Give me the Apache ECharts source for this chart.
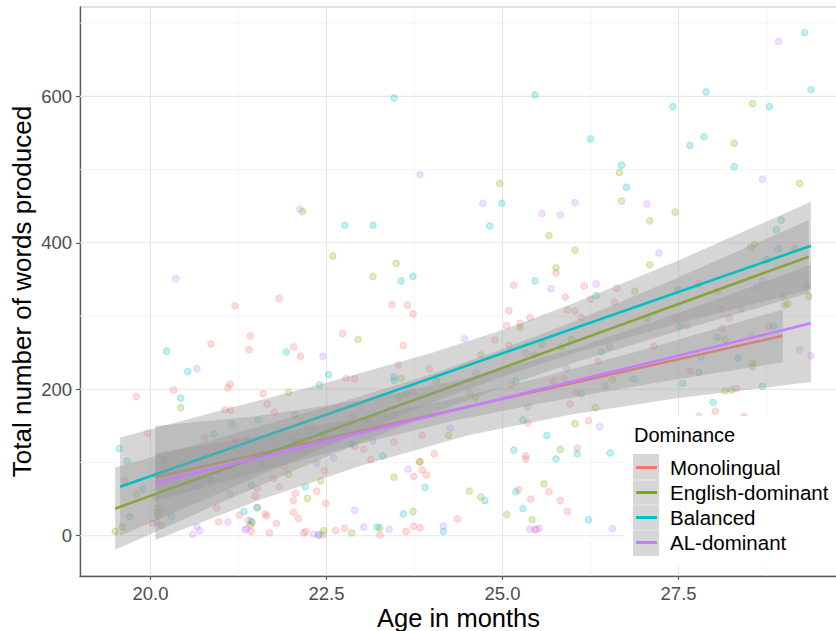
<!DOCTYPE html>
<html><head><meta charset="utf-8">
<script src="https://cdn.jsdelivr.net/npm/echarts@6/dist/echarts.min.js"></script>
<style>html,body{margin:0;padding:0;background:#fff}#c{width:836px;height:631px}</style>
</head><body><div id="c"></div>
<script>
// ---------- data ----------
const groups = ['Monolingual', 'English-dominant', 'Balanced', 'AL-dominant'];
const colors = ['#F8766D', '#7CAE00', '#00BFC4', '#C77CFF'];
const xTicks = [20, 22.5, 25, 27.5];
const xMinor = [21.25, 23.75, 26.25, 28.75];
const yTicks = [0, 200, 400, 600];
const yMinor = [100, 300, 500, 700];

const monoPts = [[21.20,314],[21.83,324],[23.43,316],[23.65,315],[23.73,303],[25.76,359],[25.16,342],[25.89,326],[26.16,341],[26.62,338],[26.25,323],[26.59,319],[25.09,307],[25.39,298],[25.92,308],[26.03,307],[26.12,298],[27.78,344],[28.05,334],[28.98,327],[28.09,310],[28.39,310],[28.22,297],[27.46,298],[27.62,287],[28.12,283],[28.78,286],[27.15,259],[25.06,287],[25.25,290],[24.89,267],[25.09,260],[25.33,249],[25.45,247],[23.96,228],[25.72,211],[25.88,215],[25.36,176],[25.13,206],[25.96,180],[26.05,196],[26.46,205],[26.36,238],[26.22,157],[25.36,154],[23.86,137],[24.03,112],[26.06,120],[25.33,109],[25.33,105],[23.83,101],[23.86,90],[23.92,83],[25.23,63],[25.66,60],[25.40,50],[25.82,48],[25.92,33],[24.36,23],[23.83,11],[25.48,9],[28.32,201],[28.02,170],[28.43,163],[27.66,225],[21.42,273],[21.40,254],[22.73,276],[22.03,258],[22.13,245],[20.86,262],[23.59,260],[23.52,233],[22.78,215],[22.90,214],[21.13,207],[21.10,202],[20.33,199],[19.80,190],[21.60,194],[23.73,197],[21.66,180],[21.06,172],[21.14,171],[21.76,169],[22.22,149],[22.31,149],[19.96,140],[20.77,134],[21.20,130],[21.37,133],[22.90,122],[23.03,118],[23.13,104],[23.46,128],[21.56,100],[22.47,89],[21.90,95],[19.63,76],[21.75,78],[21.83,67],[22.36,61],[22.06,58],[22.03,48],[21.49,54],[21.52,65],[22.49,44],[23.74,81],[20.03,17],[20.94,38],[21.26,28],[20.97,19],[21.39,21],[21.45,18],[21.51,39],[21.63,30],[21.65,27],[21.79,17],[22.03,32],[22.10,24],[21.43,6],[21.69,4],[22.21,6],[22.18,4],[22.45,1],[22.63,7],[22.76,10],[23.26,1],[23.63,6],[23.74,13],[22.86,162],[20.07,53]];
const engPts = [[22.16,443],[22.59,382],[23.49,372],[23.16,354],[28.55,590],[28.29,536],[26.66,496],[29.22,481],[24.96,481],[26.69,457],[27.45,442],[27.09,430],[25.66,410],[26.03,390],[27.09,370],[28.52,394],[28.58,398],[29.15,392],[25.76,366],[26.88,334],[29.32,342],[29.35,327],[29.01,315],[29.05,317],[27.06,296],[28.16,268],[26.52,258],[25.25,284],[24.69,247],[25.56,261],[25.83,258],[25.98,268],[24.06,211],[24.53,195],[24.62,189],[26.56,213],[26.32,175],[26.03,153],[24.23,137],[25.82,118],[24.53,61],[24.69,53],[25.59,71],[25.06,29],[25.42,22],[28.16,198],[28.25,199],[28.55,236],[28.55,231],[22.95,268],[21.96,196],[23.56,215],[20.43,175],[23.53,189],[22.05,165],[23.82,101],[20.20,104],[21.96,84],[22.42,75],[22.23,51],[23.46,80],[19.80,57],[20.09,38],[20.09,32],[20.10,27],[20.16,14],[19.60,12],[19.50,6],[21.42,15],[22.46,7],[22.86,4],[23.26,11],[23.73,33]];
const balPts = [[23.46,598],[22.76,424],[23.16,424],[23.56,348],[23.73,354],[29.29,687],[29.38,609],[25.46,602],[27.89,606],[27.42,586],[28.79,586],[26.25,542],[27.66,533],[27.86,545],[28.29,504],[26.69,506],[26.76,476],[24.99,454],[24.82,423],[28.96,431],[28.89,418],[28.92,392],[28.75,377],[25.46,348],[26.33,328],[27.49,336],[27.52,286],[28.05,271],[28.85,287],[26.40,251],[27.82,244],[28.35,243],[25.19,211],[26.12,194],[26.86,214],[28.69,204],[27.99,182],[27.56,208],[27.79,223],[25.29,158],[25.63,137],[25.16,117],[25.76,105],[26.06,112],[26.53,113],[23.90,66],[24.75,48],[25.19,60],[25.29,37],[26.22,22],[24.16,6],[21.93,251],[20.23,252],[20.53,224],[22.53,220],[22.40,206],[23.46,217],[23.46,212],[20.43,188],[23.63,194],[21.53,158],[21.16,152],[20.90,139],[22.05,129],[22.45,135],[22.86,125],[23.30,109],[19.56,119],[19.67,102],[20.86,77],[21.43,69],[22.20,67],[19.89,64],[20.30,26],[19.70,26],[21.33,33],[21.52,38],[22.39,1],[23.22,12],[23.59,30],[23.09,160],[21.43,20]];
const alPts = [[23.83,493],[22.12,446],[20.36,351],[28.92,675],[28.69,487],[24.72,454],[27.05,453],[25.56,440],[25.82,438],[26.03,455],[27.22,386],[25.69,337],[26.33,344],[28.62,340],[28.69,348],[28.52,273],[29.22,254],[29.38,246],[24.46,269],[24.62,222],[25.91,228],[26.38,149],[24.26,147],[24.16,13],[25.39,9],[25.46,8],[25.52,10],[26.56,10],[27.79,163],[22.45,245],[20.66,228],[23.16,129],[22.36,99],[22.60,106],[23.66,91],[20.67,67],[21.13,57],[20.17,36],[20.09,18],[21.10,19],[20.60,2],[20.70,7],[20.66,12],[21.34,8],[21.37,10],[22.32,2],[22.39,1],[22.90,35],[23.03,12],[23.39,9]];

// fitted lines: endpoints
const monoFit = [[20.07, 80], [28.98, 273]];
const engFit  = [[19.50, 37], [29.35, 381]];
const balFit  = [[19.57, 67], [29.38, 396]];
const alFit   = [[20.07, 72], [29.38, 290]];

// confidence bands
const monoBandX  = [20.07, 21.5, 23.0, 24.3, 25.5, 27.0, 28.98];
const monoBandLo = [47, 86, 126, 157, 180, 206, 237];
const monoBandHi = [113, 136, 161, 187, 215, 254, 309];
const engBandX   = [19.5, 21.0, 22.5, 24.0, 25.0, 26.0, 27.5, 29.35];
const engBandLo  = [-19, 45, 108, 167, 203, 236, 280, 331];
const engBandHi  = [93, 134, 176, 221, 255, 292, 353, 431];
const balBandX   = [19.57, 21.0, 22.5, 24.0, 25.0, 26.0, 27.5, 29.38];
const balBandLo  = [0, 59, 122, 182, 217, 249, 290, 336];
const balBandHi  = [134, 171, 209, 250, 281, 317, 376, 456];
const alBandX    = [20.07, 21.5, 23.0, 24.5, 26.0, 27.5, 29.38];
const alBandLo   = [-6, 47, 96, 137, 166, 188, 210];
const alBandHi   = [150, 163, 185, 215, 255, 304, 370];

const allPts = [monoPts, engPts, balPts, alPts];
const allFit = [monoFit, engFit, balFit, alFit];
const allBands = [
  [monoBandX, monoBandLo, monoBandHi],
  [engBandX, engBandLo, engBandHi],
  [balBandX, balBandLo, balBandHi],
  [alBandX, alBandLo, alBandHi]
];

// ---------- chart ----------
const FONT = '"Liberation Sans", Arial, Helvetica, sans-serif';
function rgba(hex, a) {
  const n = parseInt(hex.slice(1), 16);
  return `rgba(${(n >> 16) & 255},${(n >> 8) & 255},${n & 255},${a})`;
}
const chart = echarts.init(document.getElementById('c'), null, { renderer: 'svg' });

const gridItems = [];
xMinor.forEach(v => gridItems.push([0, v, 0]));
yMinor.forEach(v => gridItems.push([1, v, 0]));
xTicks.forEach(v => gridItems.push([0, v, 1]));
yTicks.forEach(v => gridItems.push([1, v, 1]));

const series = [];
series.push({
  type: 'custom', z: 1, silent: true, data: gridItems,
  encode: { x: 1, y: 1 },
  renderItem(params, api) {
    const cs = params.coordSys;
    const dir = api.value(0), v = api.value(1), major = api.value(2);
    let shape;
    if (dir === 0) {
      const p = api.coord([v, 0]);
      shape = { x1: p[0], y1: cs.y, x2: p[0], y2: cs.y + cs.height };
    } else {
      const p = api.coord([20, v]);
      shape = { x1: cs.x, y1: p[1], x2: cs.x + cs.width, y2: p[1] };
    }
    return { type: 'line', shape, style: { stroke: major ? '#e6e6e6' : '#f3f3f3', lineWidth: major ? 1.1 : 0.8 } };
  }
});

groups.forEach((g, i) => {
  series.push({
    type: 'scatter', name: g, data: allPts[i], z: 2, symbol: 'circle', symbolSize: 6.5,
    silent: true,
    itemStyle: { color: rgba(colors[i], 0.3), borderColor: rgba(colors[i], 0.32), borderWidth: 1.2 }
  });
});

groups.forEach((g, i) => {
  const [bx, lo, hi] = allBands[i];
  series.push({
    type: 'custom', name: g + ' band', z: 3 + 2 * i, silent: true,
    data: [[bx[0], lo[0]]],
    renderItem(params, api) {
      const pts = [];
      for (let k = 0; k < bx.length; k++) pts.push(api.coord([bx[k], hi[k]]));
      for (let k = bx.length - 1; k >= 0; k--) pts.push(api.coord([bx[k], lo[k]]));
      return { type: 'polygon', shape: { points: pts }, style: { fill: 'rgba(153,153,153,0.4)' } };
    }
  });
  series.push({
    type: 'line', name: g + ' fit', z: 4 + 2 * i, silent: true, data: allFit[i],
    showSymbol: false, symbol: 'none',
    lineStyle: { color: colors[i], width: 2.6 }
  });
});

// legend (drawn as graphics)
const legendGraphics = [
  { type: 'rect', shape: { x: 625, y: 416, width: 215, height: 150 }, style: { fill: '#ffffff' }, z: 100 },
  { type: 'text', x: 634, y: 435, z: 101, style: { text: 'Dominance', fontSize: 20, fontFamily: FONT, fill: '#000', verticalAlign: 'middle', align: 'left' } },
  { type: 'rect', shape: { x: 633, y: 454, width: 26, height: 102 }, style: { fill: '#d6d6d6' }, z: 101 }
];
const legendY = [467.5, 492.5, 517.5, 542.5];
groups.forEach((g, i) => {
  if (i > 0) legendGraphics.push({ type: 'line', z: 102, shape: { x1: 633, y1: legendY[i] - 12.5, x2: 659, y2: legendY[i] - 12.5 }, style: { stroke: 'rgba(255,255,255,0.45)', lineWidth: 1 } });
  legendGraphics.push({ type: 'line', z: 103, shape: { x1: 636, y1: legendY[i], x2: 657, y2: legendY[i] }, style: { stroke: colors[i], lineWidth: 3 } });
  legendGraphics.push({ type: 'text', x: 670, y: legendY[i], z: 103, style: { text: g, fontSize: 20.5, fontFamily: FONT, fill: '#000', verticalAlign: 'middle', align: 'left' } });
});

chart.setOption({
  animation: false,
  backgroundColor: '#ffffff',
  grid: { left: 80, right: -1, top: 7, bottom: 55, show: true, borderColor: '#c6c6c6', borderWidth: 1, backgroundColor: 'transparent', containLabel: false, outerBoundsMode: 'none' },
  xAxis: {
    type: 'value', min: 19.0, max: 29.75,
    name: 'Age in months', nameLocation: 'middle', nameGap: 29, nameMoveOverlap: false,
    nameTextStyle: { fontSize: 25.5, fontFamily: FONT, color: '#000' },
    axisLine: { show: true, onZero: false, lineStyle: { color: '#5c5c5c', width: 1.4 } },
    axisTick: { show: true, length: 4, customValues: xTicks, lineStyle: { color: '#5c5c5c', width: 1.2 } },
    axisLabel: { customValues: xTicks, margin: 8, fontSize: 18.5, fontFamily: FONT, color: '#4d4d4d', formatter: v => v.toFixed(1) },
    splitLine: { show: false }
  },
  yAxis: {
    type: 'value', min: -55, max: 722,
    name: 'Total number of words produced', nameLocation: 'middle', nameGap: 45, nameMoveOverlap: false,
    nameTextStyle: { fontSize: 26, fontFamily: FONT, color: '#000' },
    axisLine: { show: true, onZero: false, lineStyle: { color: '#5c5c5c', width: 1.4 } },
    axisTick: { show: true, length: 4, customValues: yTicks, lineStyle: { color: '#5c5c5c', width: 1.2 } },
    axisLabel: { customValues: yTicks, margin: 8, fontSize: 18.5, fontFamily: FONT, color: '#4d4d4d', formatter: v => String(v) },
    splitLine: { show: false }
  },
  series,
  graphic: legendGraphics
});
</script></body></html>
